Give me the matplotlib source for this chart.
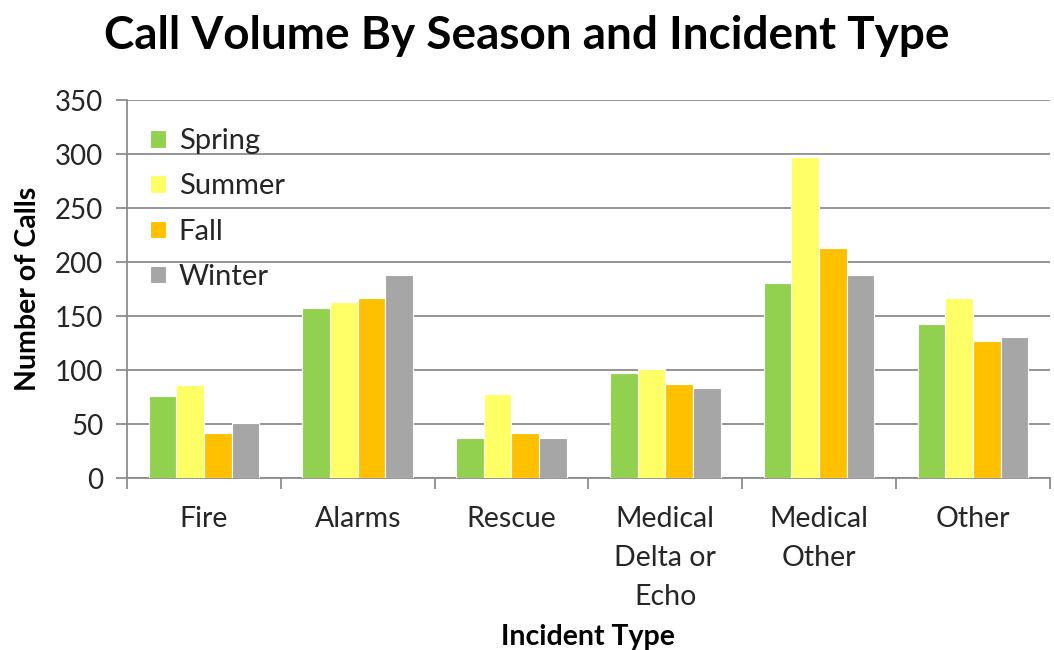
import matplotlib

matplotlib.use("Agg")
import matplotlib.pyplot as plt
import numpy as np

plt.rcParams["font.family"] = ["Lato", "DejaVu Sans"]

# Calls per incident type, one list per season
categories = ["Fire", "Alarms", "Rescue", "Medical\nDelta or\nEcho", "Medical\nOther", "Other"]
seasons = ["Spring", "Summer", "Fall", "Winter"]
spring = [76, 157, 37, 97, 181, 143]
summer = [86, 163, 78, 101, 297, 167]
fall = [42, 167, 42, 87, 213, 127]
winter = [51, 188, 37, 83, 188, 131]

colors = ["#92D050", "#FFFF66", "#FFC000", "#A6A6A6"]
_INK = "#262626"
_GRID = "#8C8C8C"

fig = plt.figure(figsize=(10.54, 6.5), dpi=100, facecolor="white")
ax = fig.add_axes([0.1205, 0.2646, 0.8755, 0.5814])

x = np.arange(len(categories))
bar_w = 0.18
series = [spring, summer, fall, winter]
for i, (name, vals, c) in enumerate(zip(seasons, series, colors)):
    ax.bar(x + (i - 1.5) * bar_w, vals, width=bar_w, color=c,
           edgecolor="white", linewidth=0.8, label=name, zorder=3)

ax.set_xlim(-0.5, len(categories) - 0.5)
ax.set_ylim(0, 350)
ax.set_yticks(np.arange(0, 351, 50))
ax.yaxis.grid(True, color=_GRID, linewidth=1.3, zorder=0)
ax.set_axisbelow(True)

# Category ticks sit on the boundaries between groups
ax.set_xticks(np.arange(-0.5, len(categories), 1.0))
ax.set_xticklabels([])
ax.set_xticks(x, minor=True)
ax.set_xticklabels(categories, minor=True, fontsize=20.5, color=_INK, linespacing=1.62, va="top")
ax.tick_params(axis="x", which="minor", length=0, pad=20)
ax.tick_params(axis="x", which="major", length=8, width=1.3, color=_GRID, direction="out")
ax.tick_params(axis="y", length=8, width=1.3, color=_GRID, direction="out", labelsize=20,
               labelcolor=_INK, pad=9)

for side in ("top", "right"):
    ax.spines[side].set_visible(False)
for side in ("left", "bottom"):
    ax.spines[side].set_color(_GRID)
    ax.spines[side].set_linewidth(1.3)

ax.set_ylabel("Number of Calls", fontsize=20.5, fontweight="bold", color="black", labelpad=10)
ax.set_xlabel("Incident Type", fontsize=20.5, fontweight="bold", color="black", labelpad=10)

ax.legend(loc="upper left", bbox_to_anchor=(-0.004, 0.995), frameon=False, fontsize=21,
          handlelength=0.55, handleheight=0.55, handletextpad=0.45, labelspacing=0.66,
          labelcolor=_INK)

fig.text(0.5, 0.945, "Call Volume By Season and Incident Type", ha="center", va="center",
         fontsize=33, fontweight="bold", color="black")

fig.savefig("out.png", dpi=100, facecolor="white")
